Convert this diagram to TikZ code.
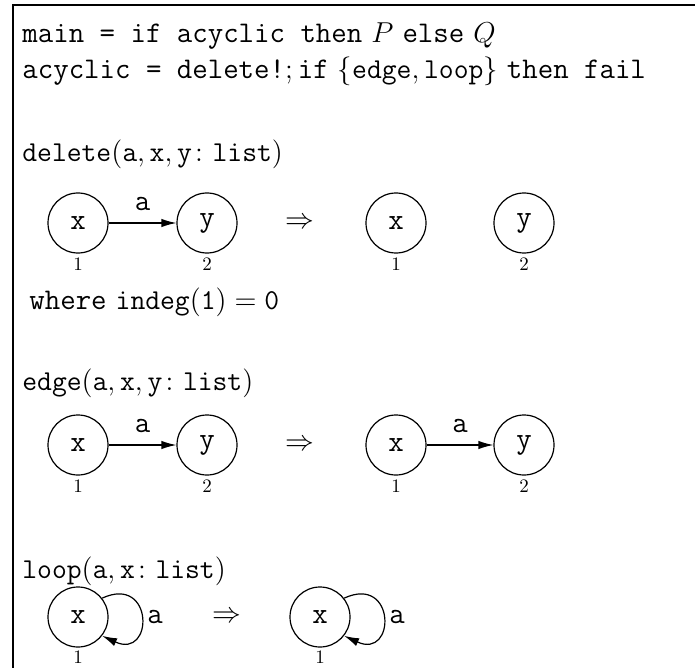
\documentclass[tikz,border=0pt]{standalone}
\usepackage{amsmath,amssymb}
\usepackage{tikz}
\usetikzlibrary{positioning, calc, arrows.meta}

\begin{document}
\begin{tikzpicture}[x=0.5pt, y=-0.5pt,
    txt/.style={anchor=base west, inner sep=0pt, font=\fontsize{15}{18}\selectfont},
    gnode/.style={circle, draw, line width=0.6pt, minimum size=30pt, inner sep=0pt,
        font=\fontsize{15}{18}\selectfont\ttfamily},
    idx/.style={inner sep=0pt, font=\fontsize{9.5}{11}\selectfont},
    arr/.style={line width=0.6pt, -{Latex[length=7.5pt, width=4.2pt]}},
    lab/.style={inner sep=0pt, font=\fontsize{15}{18}\selectfont\ttfamily}]
    \useasboundingbox (0,0) rectangle (695,668);

    % Frame
    \draw[line width=1pt] (13,668) -- (13,5.5) -- (695,5.5);

    % Programme
    \node[txt] (main) at (22,43) {\texttt{main = if acyclic then} $P$ \texttt{else} $Q$};
    \node[txt] (acyc) at (22,79) {\texttt{acyclic = delete!}$;$\,\texttt{if} $\{\mathtt{edge}, \mathtt{loop}\}$ \texttt{then fail}};

    % Rule delete
    \node[txt] (delete) at (22,162) {$\mathtt{delete}(\mathtt{a}, \mathtt{x}, \mathtt{y}\colon \mathtt{list})$};
    \node[gnode] (dL1) at (78,223) {x};
    \node[gnode] (dL2) at (207,223) {y};
    \draw[arr] (dL1) -- node[lab, above=6pt] (dLa) {a} (dL2);
    \node[idx] (dL1n) at (78,264) {1};
    \node[idx] (dL2n) at (207,264) {2};
    \node[lab] (dimp) at (300,223) {$\Rightarrow$};
    \node[gnode] (dR1) at (396,223) {x};
    \node[gnode] (dR2) at (524,223) {y};
    \node[idx] (dR1n) at (396,264) {1};
    \node[idx] (dR2n) at (524,264) {2};
    \node[txt] (where) at (29,309) {\texttt{where} $\mathtt{indeg}(\mathtt{1}) = \mathtt{0}$};

    % Rule edge
    \node[txt] (edge) at (22,390) {$\mathtt{edge}(\mathtt{a}, \mathtt{x}, \mathtt{y}\colon \mathtt{list})$};
    \node[gnode] (eL1) at (78,445) {x};
    \node[gnode] (eL2) at (207,445) {y};
    \draw[arr] (eL1) -- node[lab, above=6pt] (eLa) {a} (eL2);
    \node[idx] (eL1n) at (78,486) {1};
    \node[idx] (eL2n) at (207,486) {2};
    \node[lab] (eimp) at (300,445) {$\Rightarrow$};
    \node[gnode] (eR1) at (396,445) {x};
    \node[gnode] (eR2) at (524,445) {y};
    \draw[arr] (eR1) -- node[lab, above=6pt] (eRa) {a} (eR2);
    \node[idx] (eR1n) at (396,486) {1};
    \node[idx] (eR2n) at (524,486) {2};

    % Rule loop
    \node[txt] (loop) at (22,578) {$\mathtt{loop}(\mathtt{a}, \mathtt{x}\colon \mathtt{list})$};
    \node[gnode] (lL1) at (78,617) {x};
    \draw[arr] (lL1.38) .. controls +(52,-24) and +(52,24) .. (lL1.-38);
    \node[lab, anchor=west] (lLa) at (147,617) {a};
    \node[idx] (lL1n) at (78,657) {1};
    \node[lab] (limp) at (227,617) {$\Rightarrow$};
    \node[gnode] (lR1) at (320,617) {x};
    \draw[arr] (lR1.38) .. controls +(52,-24) and +(52,24) .. (lR1.-38);
    \node[lab, anchor=west] (lRa) at (389,617) {a};
    \node[idx] (lR1n) at (320,657) {1};
\end{tikzpicture}
\end{document}
